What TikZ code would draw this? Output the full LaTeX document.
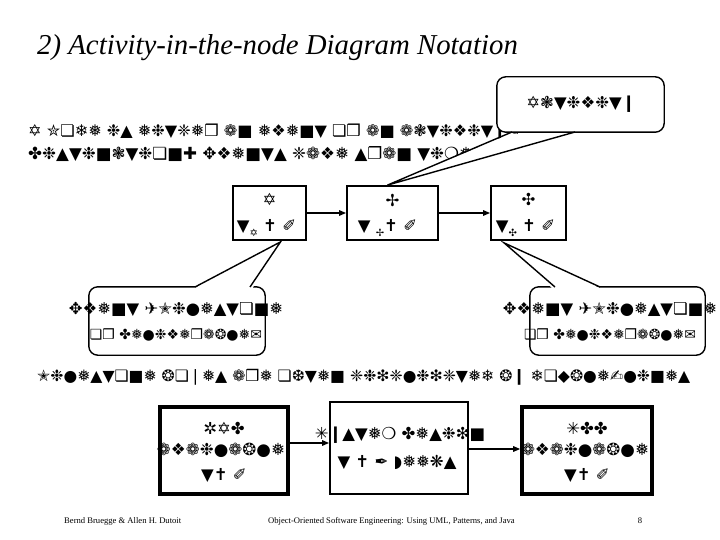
\documentclass[tikz,border=0pt]{standalone}
\usepackage{fontspec}
\setmainfont{Liberation Serif}
\newfontfamily\dingf{DejaVu Sans}
\usetikzlibrary{arrows.meta}
\newcommand{\subg}[1]{\raisebox{-5pt}{\fontsize{10}{10}\selectfont #1}}
\begin{document}
\begin{tikzpicture}[x=1pt,y=-1pt,
  dtxt/.style={font=\dingf\fontsize{16.5}{19}\selectfont, inner sep=0pt},
  actbox/.style={draw, line width=1.8pt, inner sep=0pt},
  milebox/.style={draw, line width=3.6pt, inner sep=0pt},
  arr/.style={-{Triangle[length=7pt,width=5.5pt]}, line width=1.4pt},
  callbox/.style={draw, line width=1.4pt, fill=white, rounded corners=9pt},
  wedgeline/.style={draw, line width=1.4pt},
  foot/.style={font=\fontsize{8.6}{10}\selectfont, inner sep=0pt}]
\useasboundingbox (0,0) rectangle (720,540);
\fill[white] (0,0) rectangle (720,540);

% title
\node[anchor=base west, inner sep=0pt, font=\fontsize{28.8}{32}\selectfont\itshape] (title) at (37,55) {2) Activity-in-the-node Diagram Notation};

% top explanatory text
\node[dtxt, anchor=west] (l1) at (28,132) {\resizebox{492pt}{!}{✡ ✮❏❄❅ ❉▲ ❅❉▼❈❅❒ ❁■ ❅❖❅■▼ ❏❒ ❁■ ❁❃▼❉❖❉▼❙✎}};
\node[dtxt, anchor=west] (l2) at (28,154) {\resizebox{459pt}{!}{✤❉▲▼❉■❃▼❉❏■✚ ✥❖❅■▼▲ ❈❁❖❅ ▲❐❁■ ▼❉❍❅✎}};

% activity boxes
\node[actbox, minimum width=73pt, minimum height=54pt] (A) at (269.5,213) {};
\node[actbox, minimum width=91pt, minimum height=54pt] (B) at (392.5,213) {};
\node[actbox, minimum width=75pt, minimum height=54pt] (C) at (528.5,213) {};
\node[dtxt] (Aname) at ([yshift=14pt]A.center) {✡};
\node[dtxt] (Adur) at ([yshift=-15pt,xshift=-3pt]A.center) {▼\subg{✡} ✝ ✐};
\node[dtxt] (Bname) at ([yshift=13pt]B.center) {✢};
\node[dtxt] (Bdur) at ([yshift=-15pt,xshift=-5pt]B.center) {▼ \subg{✢}✝ ✐};
\node[dtxt] (Cname) at ([yshift=14pt]C.center) {✣};
\node[dtxt] (Cdur) at ([yshift=-15pt,xshift=-3pt]C.center) {▼\subg{✣} ✝ ✐};
\draw[arr] (A.east) -- (B.west);
\draw[arr] (B.east) -- (C.west);

% "Activity" callout
\node[inner sep=0pt, minimum width=167pt, minimum height=55pt] (actc) at (580.5,104.5) {};
\draw[callbox] (actc.north west) rectangle (actc.south east);
\coordinate (actTip) at ([xshift=-5pt]B.north);
\fill[white] (510,134) -- (actTip) -- (577,134) -- cycle;
\draw[wedgeline] (512,132) -- (actTip) -- (575,132);
\node[dtxt] (actt) at (581,104) {✡❃▼❉❖❉▼❙};

% event callouts
\node[inner sep=0pt, minimum width=176pt, minimum height=68pt] (ev1) at (177,321) {};
\draw[callbox] (ev1.north west) rectangle (ev1.south east);
\coordinate (ev1Tip) at ([xshift=11pt,yshift=-1pt]A.south);
\fill[white] (193,289) -- (ev1Tip) -- (252,289) -- cycle;
\draw[wedgeline] (195,287) -- (ev1Tip) -- (250,287);
\node[dtxt] (ev1a) at (176,309) {\resizebox{214pt}{!}{✥❖❅■▼ ✈✭❉●❅▲▼❏■❅}};
\node[dtxt] (ev1b) at (176,335) {\resizebox{172pt}{!}{❏❒ ✤❅●❉❖❅❒❁❂●❅✉}};

\node[inner sep=0pt, minimum width=175pt, minimum height=68pt] (ev2) at (617.5,321) {};
\draw[callbox] (ev2.north west) rectangle (ev2.south east);
\coordinate (ev2Tip) at ([xshift=14pt,yshift=-2pt]C.south west);
\fill[white] (553,289) -- (ev2Tip) -- (602,289) -- cycle;
\draw[wedgeline] (555,287) -- (ev2Tip) -- (600,287);
\node[dtxt] (ev2a) at (610,309) {\resizebox{214pt}{!}{✥❖❅■▼ ✈✭❉●❅▲▼❏■❅}};
\node[dtxt] (ev2b) at (610,335) {\resizebox{172pt}{!}{❏❒ ✤❅●❉❖❅❒❁❂●❅✉}};

% milestone sentence
\node[dtxt, anchor=west] (ms) at (37,377) {\resizebox{653pt}{!}{✭❉●❅▲▼❏■❅ ❂❏❘❅▲ ❁❒❅ ❏❆▼❅■ ❈❉❇❈●❉❇❈▼❅❄ ❂❙ ❄❏◆❂●❅✍●❉■❅▲}};

% bottom row
\node[milebox, minimum width=128pt, minimum height=87pt] (L) at (224,450.5) {};
\node[actbox, minimum width=138pt, minimum height=92pt] (M) at (399,448) {};
\node[milebox, minimum width=130pt, minimum height=87pt] (R) at (587,450.5) {};
\node[dtxt] (La) at (224,428) {✲✡✤};
\node[dtxt] (Lb) at (221,450) {\resizebox{128pt}{!}{❁❖❁❉●❁❂●❅}};
\node[dtxt] (Lc) at (224,475) {▼✝ ✐};
\node[dtxt] (Ma) at (400,435) {✳❙▲▼❅❍ ✤❅▲❉❇■};
\node[dtxt] (Mb) at (397,462) {▼ ✝ ✒ ◗❅❅❋▲};
\node[dtxt] (Ra) at (587,428) {✳✤✤};
\node[dtxt] (Rb) at (585,450) {\resizebox{128pt}{!}{❁❖❁❉●❁❂●❅}};
\node[dtxt] (Rc) at (587,475) {▼✝ ✐};
\coordinate (yA) at (0,443);
\coordinate (yB) at (0,449);
\draw[arr] (L.east |- yA) -- (M.west |- yA);
\draw[arr] (M.east |- yB) -- (R.west |- yB);

% footer
\node[foot, anchor=west] (f1) at (64,521) {Bernd Bruegge \& Allen H. Dutoit};
\node[foot, anchor=west] (f2) at (268,521) {Object-Oriented Software Engineering: Using UML, Patterns, and Java};
\node[foot] (f3) at (640,521) {8};
\end{tikzpicture}
\end{document}
